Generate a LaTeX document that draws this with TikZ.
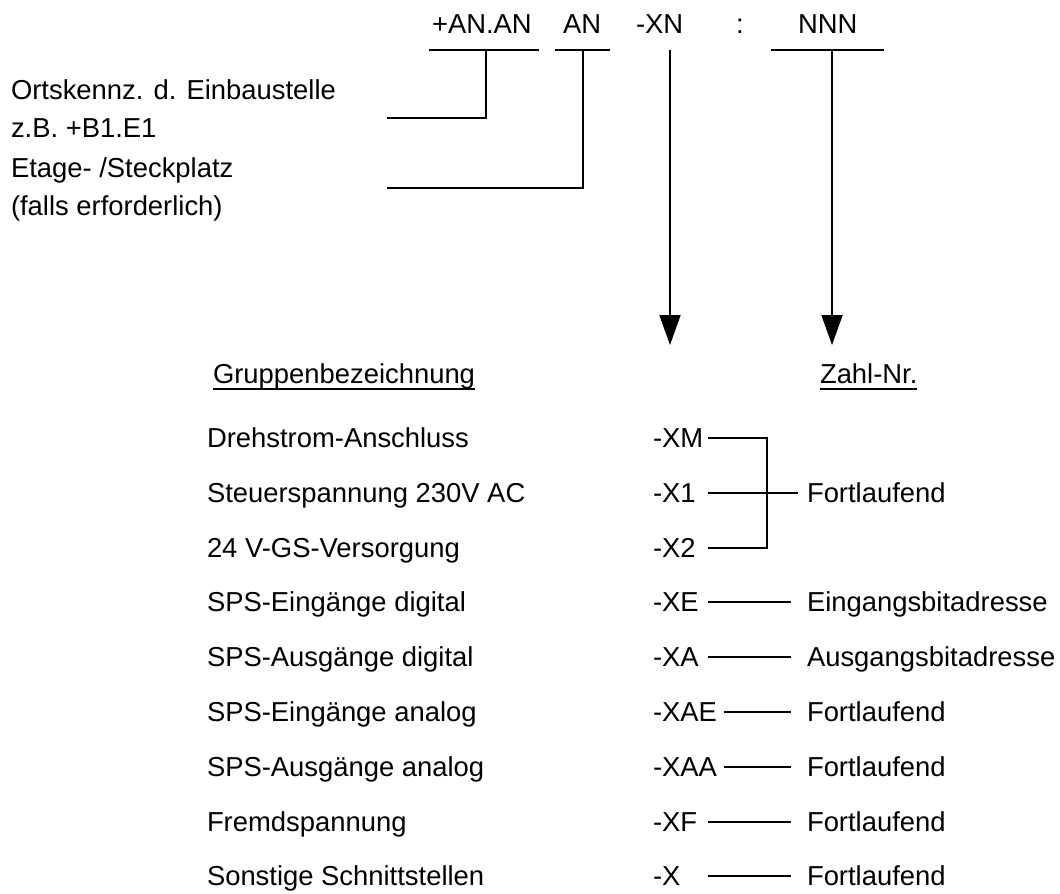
\documentclass[tikz,border=0pt]{standalone}
\usepackage{fontspec}
\setmainfont{Liberation Sans}
\usetikzlibrary{arrows.meta}

\begin{document}
\begin{tikzpicture}[
  x=1pt, y=-1pt,
  txt/.style={inner sep=0pt, outer sep=0pt, anchor=west, text height=19.6pt,
              text depth=0pt, font=\fontsize{27.4pt}{38pt}\selectfont},
  ln/.style={line width=1.8pt, black},
  arr/.style={ln, -{Triangle[length=30pt, width=21pt]}},
  uln/.style={line width=1.6pt, black}
]
  \useasboundingbox (0,0) rectangle (1060,894);

  % Code pattern
  \node[txt] (pan) at (432,24) {+AN.AN};
  \node[txt] (an)  at (563,24) {AN};
  \node[txt] (xn)  at (636,24) {-XN};
  \node[txt, anchor=center] (col) at (740,24) {:};
  \node[txt] (nnn) at (798,24) {NNN};

  \coordinate (j1) at (486,50);
  \coordinate (j2) at (583,50);
  \coordinate (jx) at (670,50);
  \coordinate (j3) at (832,50);
  \draw[ln] ([xshift=-3pt]pan.west |- j1) -- ([xshift=7pt]pan.east |- j1);
  \draw[ln] ([xshift=-8pt]an.west |- j2) -- ([xshift=9pt]an.east |- j2);
  \draw[ln] ([xshift=-27pt]nnn.west |- j3) -- ([xshift=27pt]nnn.east |- j3);

  % Left notes
  \node[txt, anchor=base west] (ort1) at (11,99)  {Ortskennz. d. Einbaustelle};
  \node[txt, anchor=base west] (ort2) at (11,137) {z.B. +B1.E1};
  \node[txt, anchor=base west] (eta1) at (11,177) {Etage- /Steckplatz};
  \node[txt, anchor=base west] (eta2) at (11,215) {(falls erforderlich)};
  \coordinate (o1) at (387,118);
  \coordinate (e1) at (387,188);
  \draw[ln] (j1) |- (o1);
  \draw[ln] (j2) |- (e1);

  % Arrows down
  \coordinate (tx) at (670,345);
  \coordinate (tn) at (832,345);
  \draw[arr] (jx) -- (tx);
  \draw[arr] (j3) -- (tn);

  % Headings
  \node[txt] (grp)  at (213,374) {Gruppenbezeichnung};
  \node[txt] (zahl) at (820,374) {Zahl-Nr.};
  \draw[uln] ([yshift=-5pt]grp.south west) -- ([yshift=-5pt]grp.south east);
  \draw[uln] ([yshift=-5pt]zahl.south west) -- ([yshift=-5pt]zahl.south east);

  % Groups
  \node[txt] (g1) at (207,438) {Drehstrom-Anschluss};
  \node[txt] (g2) at (207,493) {Steuerspannung 230V AC};
  \node[txt] (g3) at (207,548) {24 V-GS-Versorgung};
  \node[txt] (g4) at (207,602) {SPS-Eingänge digital};
  \node[txt] (g5) at (207,657) {SPS-Ausgänge digital};
  \node[txt] (g6) at (207,712) {SPS-Eingänge analog};
  \node[txt] (g7) at (207,767) {SPS-Ausgänge analog};
  \node[txt] (g8) at (207,822) {Fremdspannung};
  \node[txt] (g9) at (207,876) {Sonstige Schnittstellen};

  % Codes
  \node[txt] (xm)  at (653,438) {-XM};
  \node[txt] (x1)  at (653,493) {-X1};
  \node[txt] (x2)  at (653,548) {-X2};
  \node[txt] (xe)  at (653,602) {-XE};
  \node[txt] (xa)  at (653,657) {-XA};
  \node[txt] (xae) at (653,712) {-XAE};
  \node[txt] (xaa) at (653,767) {-XAA};
  \node[txt] (xf)  at (653,822) {-XF};
  \node[txt] (xx)  at (653,876) {-X};

  % Numbering
  \node[txt] (f1)  at (807,493) {Fortlaufend};
  \node[txt] (ein) at (807,602) {Eingangsbitadresse};
  \node[txt] (aus) at (807,657) {Ausgangsbitadresse};
  \node[txt] (fae) at (807,712) {Fortlaufend};
  \node[txt] (faa) at (807,767) {Fortlaufend};
  \node[txt] (ff)  at (807,822) {Fortlaufend};
  \node[txt] (fx)  at (807,876) {Fortlaufend};

  \coordinate (ls) at (708,0);
  \coordinate (bx) at (767,0);
  \draw[ln] (xm.east -| ls) -| (x2.east -| bx) -- (x2.east -| ls);
  \draw[ln] (x1.east -| ls) -- ([xshift=-9pt]f1.west);
  \draw[ln] (xe.east -| ls) -- ([xshift=-16pt]ein.west);
  \draw[ln] (xa.east -| ls) -- ([xshift=-16pt]aus.west);
  \draw[ln] ([xshift=7pt]xae.east) -- ([xshift=-16pt]fae.west);
  \draw[ln] ([xshift=7pt]xaa.east) -- ([xshift=-16pt]faa.west);
  \draw[ln] (xf.east -| ls) -- ([xshift=-16pt]ff.west);
  \draw[ln] (xx.east -| ls) -- ([xshift=-16pt]fx.west);
\end{tikzpicture}
\end{document}
